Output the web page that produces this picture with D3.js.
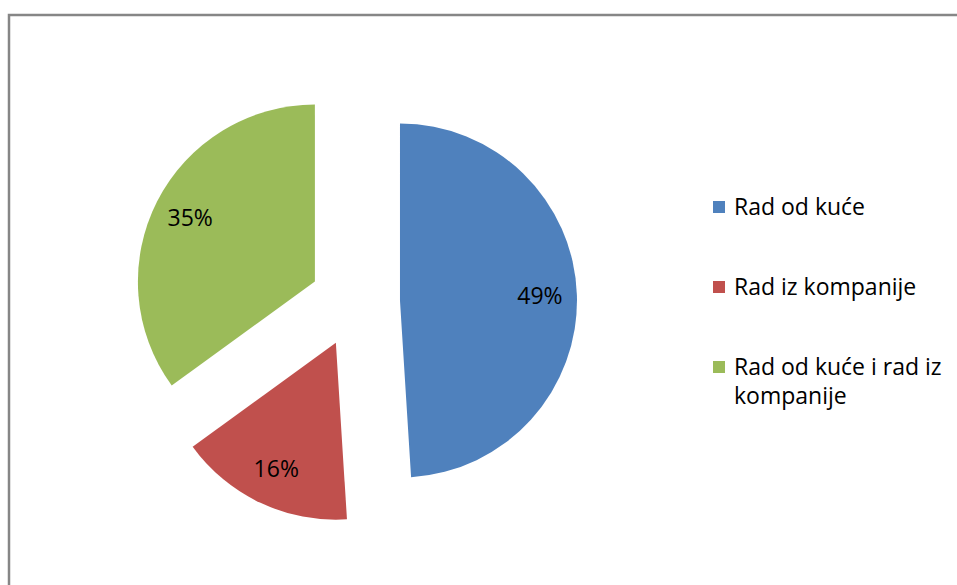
<!DOCTYPE html>
<html>
<head>
<meta charset="utf-8">
<script src="https://cdn.jsdelivr.net/npm/d3@7"></script>
<style>
  body { margin: 0; background: #fff; }
  text { font-family: "Open Sans", "Noto Sans", sans-serif; fill: #000; }
</style>
</head>
<body>
<div id="chart"></div>
<script>
var categories = ["Rad od kuće", "Rad iz kompanije", "Rad od kuće i rad iz kompanije"];
var values = [49, 16, 35];
var legendLines = [["Rad od kuće"], ["Rad iz kompanije"], ["Rad od kuće i rad iz", "kompanije"]];
var colors = ["#4F81BD", "#C0504D", "#9BBB59"];

var width = 957, height = 585,
  cx = 355, cy = 302,
  radius = 177,
  explode = 45,
  labelRadius = 140;

var svg = d3.select("#chart").append("svg")
  .attr("width", width)
  .attr("height", height);

// chart frame (runs off the right and bottom edges)
svg.append("rect")
  .attr("x", 9).attr("y", 15)
  .attr("width", 1000).attr("height", 600)
  .attr("fill", "none")
  .attr("stroke", "#868686")
  .attr("stroke-width", 2.5);

var data = categories.map(function(c, i) { return {key: c, value: values[i]}; });

var pie = d3.pie().sort(null).value(function(d) { return d.value; });
var arc = d3.arc().innerRadius(0).outerRadius(radius);
var label = d3.arc().innerRadius(labelRadius).outerRadius(labelRadius);
var color = d3.scaleOrdinal().domain(categories).range(colors);
var total = d3.sum(values);

function offset(d) {
  var a = (d.startAngle + d.endAngle) / 2;
  return [Math.sin(a) * explode, -Math.cos(a) * explode];
}

var g = svg.append("g").attr("transform", "translate(" + cx + "," + cy + ")");

var slice = g.selectAll(".slice")
  .data(pie(data))
  .enter().append("g")
  .attr("class", "slice")
  .attr("transform", function(d) { var o = offset(d); return "translate(" + o[0] + "," + o[1] + ")"; });

slice.append("path")
  .attr("fill", function(d) { return color(d.data.key); })
  .attr("d", arc);

slice.append("text")
  .attr("transform", function(d) { return "translate(" + label.centroid(d) + ")"; })
  .attr("text-anchor", "middle")
  .attr("dy", "0.35em")
  .style("font-size", "23px")
  .text(function(d) { return Math.round(d.data.value / total * 100) + "%"; });

// legend
var legend = svg.append("g").attr("transform", "translate(713,0)");
var rowY = [207, 287, 367];

var item = legend.selectAll(".item")
  .data(categories)
  .enter().append("g")
  .attr("class", "item")
  .attr("transform", function(d, i) { return "translate(0," + rowY[i] + ")"; });

item.append("rect")
  .attr("x", 0).attr("y", -6)
  .attr("width", 12).attr("height", 12)
  .attr("fill", function(d) { return color(d); });

item.append("text")
  .attr("x", 21)
  .attr("y", 0)
  .style("font-size", "23px")
  .selectAll("tspan")
  .data(function(d, i) { return legendLines[i]; })
  .enter().append("tspan")
  .attr("x", 21)
  .attr("dy", function(d, j) { return j === 0 ? "0.35em" : "29px"; })
  .text(function(d) { return d; });
</script>
</body>
</html>
